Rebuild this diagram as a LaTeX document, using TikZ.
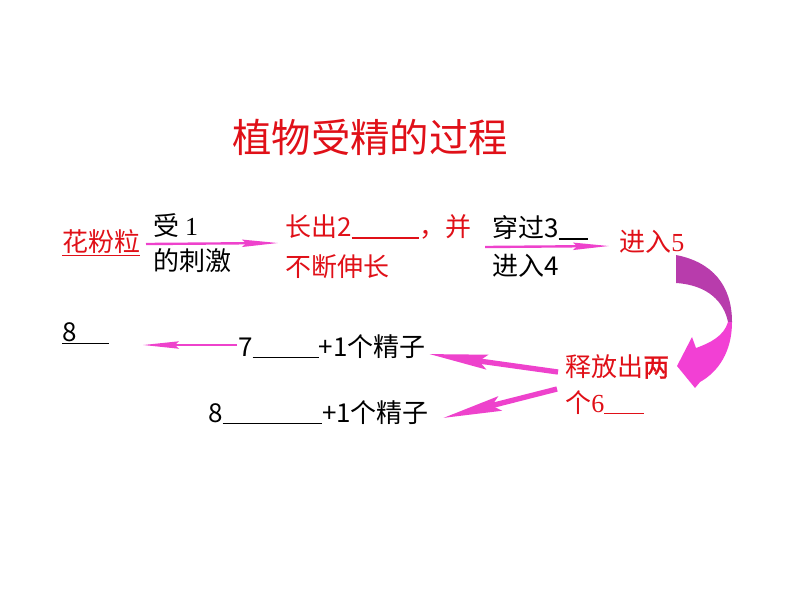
\documentclass[tikz,border=0pt]{standalone}
\usepackage{fontspec}
\setmainfont{Noto Sans CJK SC}
\newfontfamily\tms{Liberation Serif}
\newfontfamily\semibold[FakeBold=1.2]{Noto Sans CJK SC}
\usetikzlibrary{arrows.meta}
\definecolor{txtred}{HTML}{E01018}
\definecolor{arrmag}{HTML}{EE42CC}
\definecolor{bandpur}{HTML}{B83CAC}
\definecolor{bandpink}{HTML}{F240D4}
\newcommand{\blank}[1]{\rule[-0.08em]{#1pt}{0.06em}}

\begin{document}
\begin{tikzpicture}[x=0.0265cm,y=-0.0265cm]
  \tikzstyle{lbl}=[anchor=base west,inner sep=0pt,font=\fontsize{19.6}{24}\selectfont]
  \tikzstyle{rlbl}=[lbl,text=txtred]
  \tikzstyle{arr}=[arrmag,line width=1.8pt,-{Stealth[length=27pt,width=5.5pt,inset=3pt]}]
  \tikzstyle{warr}=[arrmag,line width=4pt,-{Stealth[length=44pt,width=11pt,inset=6pt]}]
  \useasboundingbox (0,0) rectangle (794,596);

  % title
  \node[rlbl,font=\fontsize{29.7}{34}\selectfont] (title) at (232,152) {植物受精的过程};

  % first row
  \node[rlbl] (pollen) at (62,251.5) {\underline{花粉粒}};
  \node[lbl] (stim1) at (153,235.5) {受 {\tms 1}};
  \node[lbl] (stim2) at (153,270.5) {的刺激};
  \node[rlbl] (grow1) at (285,236.5) {长出2\blank{51}，并};
  \node[rlbl] (grow2) at (285,276) {不断伸长};
  \node[lbl] (pass1) at (492,237.5) {穿过3\blank{22}};
  \node[lbl] (pass2) at (492,275.5) {进入4};
  \node[rlbl] (enter) at (619,251.5) {进入{\tms 5}};

  % release
  \node[rlbl] (rel1) at (565,376.5) {释放出{\semibold 两}};
  \node[rlbl] (rel2) at (565,412) {个{\tms 6}\blank{30}};

  % products
  \node[lbl] (egg) at (238,356) {7\blank{50}+1个精子};
  \node[lbl] (res) at (62,341) {\underline{8\hspace{24pt}}};
  \node[lbl] (pol) at (208,422) {8\blank{75}+1个精子};

  % arrow ends
  \coordinate (a1s) at (146,244);
  \coordinate (a1e) at (278,243);
  \coordinate (a2s) at (485,247);
  \coordinate (a2e) at (609,246);
  \coordinate (a3s) at (237,345);
  \coordinate (a3e) at (143,345);
  \coordinate (a4s) at (558,372);
  \coordinate (a4e) at (429,354);
  \coordinate (a5s) at (557,389);
  \coordinate (a5e) at (443,418);

  \draw[arr] (a1s) -- (a1e);
  \draw[arr] (a2s) -- (a2e);
  \draw[arr] (a3s) -- (a3e);
  \draw[warr] (a4s) -- (a4e);
  \draw[warr] (a5s) -- (a5e);

  % curved arrow
  \fill[bandpur] (676,255) .. controls (712,262) and (732,285) .. (732,322)
    -- (728,322) .. controls (724,302) and (708,285) .. (676,283) -- cycle;
  \fill[bandpink] (732,322) .. controls (732,352) and (718,372) .. (700,382)
    -- (695,388) -- (677,366) -- (692,337) -- (696,348)
    .. controls (710,343) and (724,336) .. (728,322) -- cycle;
\end{tikzpicture}
\end{document}
